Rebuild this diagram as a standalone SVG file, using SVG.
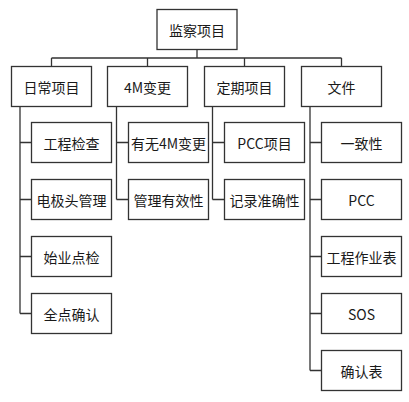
<svg xmlns="http://www.w3.org/2000/svg" width="409" height="402" viewBox="0 0 409 402">
<style>
.n rect{fill:#fff;stroke:#333;stroke-width:1.3}
.n text{font-family:"Noto Sans CJK SC","Liberation Sans",sans-serif;font-size:14px;fill:#1a1a1a;text-anchor:middle;dominant-baseline:central}
#edges path{fill:none;stroke:#333;stroke-width:1.3}
</style>
<rect width="409" height="402" fill="#fff"/>
<g id="edges">
<path d="M197 49.5V58M51.5 58H341.5M51.5 58V66.5M147.5 58V66.5M244.5 58V66.5M341.5 58V66.5"/>
<path d="M20 106.5V313.5M20 142.5H31.5M20 199.5H31.5M20 256.5H31.5M20 313.5H31.5"/>
<path d="M116.5 106.5V199.5M116.5 142.5H128.5M116.5 199.5H128.5"/>
<path d="M212.5 106.5V199.5M212.5 142.5H224.5M212.5 199.5H224.5"/>
<path d="M310 106.5V370.5M310 142.5H321.5M310 199.5H321.5M310 256.5H321.5M310 313.5H321.5M310 370.5H321.5"/>
</g>
<g id="root" class="n"><rect x="157" y="9.5" width="80" height="40"/><text x="197" y="29.5">监察项目</text></g>
<g id="daily" class="n"><rect x="11.5" y="66.5" width="80" height="40"/><text x="51.5" y="86.5">日常项目</text></g>
<g id="change4m" class="n"><rect x="107.5" y="66.5" width="80" height="40"/><text x="147.5" y="86.5">4M变更</text></g>
<g id="periodic" class="n"><rect x="204.5" y="66.5" width="80" height="40"/><text x="244.5" y="86.5">定期项目</text></g>
<g id="docs" class="n"><rect x="301.5" y="66.5" width="80" height="40"/><text x="341.5" y="86.5">文件</text></g>

<g id="d1" class="n"><rect x="31.5" y="122.5" width="80" height="40"/><text x="71.5" y="142.5">工程检查</text></g>
<g id="d2" class="n"><rect x="31.5" y="179.5" width="80" height="40"/><text x="71.5" y="199.5">电极头管理</text></g>
<g id="d3" class="n"><rect x="31.5" y="236.5" width="80" height="40"/><text x="71.5" y="256.5">始业点检</text></g>
<g id="d4" class="n"><rect x="31.5" y="293.5" width="80" height="40"/><text x="71.5" y="313.5">全点确认</text></g>

<g id="m1" class="n"><rect x="128.5" y="122.5" width="80" height="40"/><text x="168.5" y="142.5">有无4M变更</text></g>
<g id="m2" class="n"><rect x="128.5" y="179.5" width="80" height="40"/><text x="168.5" y="199.5">管理有效性</text></g>

<g id="p1" class="n"><rect x="224.5" y="122.5" width="80" height="40"/><text x="264.5" y="142.5">PCC项目</text></g>
<g id="p2" class="n"><rect x="224.5" y="179.5" width="80" height="40"/><text x="264.5" y="199.5">记录准确性</text></g>

<g id="f1" class="n"><rect x="321.5" y="122.5" width="80" height="40"/><text x="361.5" y="142.5">一致性</text></g>
<g id="f2" class="n"><rect x="321.5" y="179.5" width="80" height="40"/><text x="361.5" y="199.5">PCC</text></g>
<g id="f3" class="n"><rect x="321.5" y="236.5" width="80" height="40"/><text x="361.5" y="256.5">工程作业表</text></g>
<g id="f4" class="n"><rect x="321.5" y="293.5" width="80" height="40"/><text x="361.5" y="313.5">SOS</text></g>
<g id="f5" class="n"><rect x="321.5" y="350.5" width="80" height="40"/><text x="361.5" y="370.5">确认表</text></g>
</svg>
